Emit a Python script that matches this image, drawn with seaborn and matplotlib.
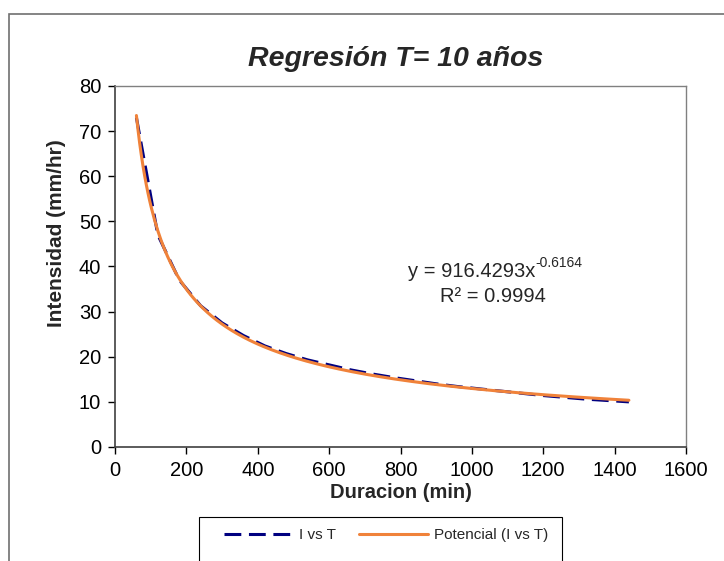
import matplotlib
matplotlib.use("Agg")
import matplotlib.pyplot as plt
from matplotlib.patches import Rectangle
import numpy as np
import pandas as pd
import seaborn as sns

### Data ###

duracion = [60, 120, 180, 240, 300, 360, 420, 480, 540, 600, 660, 720,
            780, 840, 900, 960, 1020, 1080, 1140, 1200, 1260, 1320, 1380, 1440]
intensidad = [73.0, 47.0, 37.0, 31.3, 27.5, 24.7, 22.4, 20.7, 19.3, 18.2, 17.1, 16.2,
              15.4, 14.7, 14.0, 13.4, 12.9, 12.4, 11.9, 11.4, 11.0, 10.6, 10.3, 10.0]

coef_a = 916.4293          # trend line shown on the chart: y = a * x^b
coef_b = -0.6164
r2 = 0.9994

x_ticks = [0, 200, 400, 600, 800, 1000, 1200, 1400, 1600]
y_ticks = [0, 10, 20, 30, 40, 50, 60, 70, 80]

### Plot ###

sns.set_style("white")
plt.rcParams["font.family"] = ["Liberation Sans", "DejaVu Sans"]

data_df = pd.DataFrame({"duracion": duracion, "intensidad": intensidad})
x_fit = np.linspace(min(duracion), max(duracion), 300)
fit_df = pd.DataFrame({"duracion": x_fit, "intensidad": coef_a * x_fit ** coef_b})

W, H = 724, 561
fig = plt.figure(figsize=(W / 100, H / 100), dpi=100)
ax = fig.add_axes([115 / W, (H - 447) / H, 571 / W, 361 / H])

# Excel style chart area border (only top and left are visible)
fig.patches.append(Rectangle((9 / W, -0.2), 1.2, 1.2 - 14 / H,
                             transform=fig.transFigure, fill=False,
                             edgecolor="#707070", linewidth=1.2))

sns.lineplot(data=data_df, x="duracion", y="intensidad", ax=ax,
             color="#000080", linewidth=2.2, label="I vs T")
ax.lines[-1].set_dashes([5.5, 2.5])
sns.lineplot(data=fit_df, x="duracion", y="intensidad", ax=ax,
             color="#F0823A", linewidth=2.2, label="Potencial (I vs T)")

ax.set_xlim(0, 1600)
ax.set_ylim(0, 80)
ax.set_xticks(x_ticks)
ax.set_yticks(y_ticks)
ax.tick_params(axis="both", direction="out", length=5, width=1, labelsize=14.5,
               colors="black", bottom=True, left=True, pad=5)

for side in ["left", "bottom"]:
    ax.spines[side].set_color("#404040")
    ax.spines[side].set_linewidth(1.2)
for side in ["top", "right"]:
    ax.spines[side].set_color("#808080")
    ax.spines[side].set_linewidth(1.0)

ax.set_xlabel("Duracion (min)", fontsize=14.5, fontweight="bold")
ax.xaxis.set_label_coords(0.5, (447 - 483) / 361)
ax.set_ylabel("Intensidad (mm/hr)", fontsize=15, fontweight="bold")
ax.yaxis.set_label_coords((57 - 115) / 571, (447 - 233) / 361)
ax.yaxis.label.set_verticalalignment("center")

fig.text(396 / W, 1 - 66 / H, "Regresión T= 10 años", fontsize=20.5,
         fontweight="bold", fontstyle="italic", ha="center", va="baseline")

# trend line equation, Excel style with a superscript exponent
eq = ax.text(820, 38.8, "y = 916.4293x", fontsize=14.5, ha="left", va="center")
ax.annotate(f"{coef_b}", xy=(1, 0.62), xycoords=eq, fontsize=10,
            ha="left", va="bottom")
ax.text(1060, 33.4, f"R² = {r2}", fontsize=14.5, ha="center", va="center")

# legend box at the bottom, cut by the figure edge like the original
ax.get_legend().remove()
handles, labels = ax.get_legend_handles_labels()
fig.legend(handles, labels, loc="center", ncol=2, frameon=False, fontsize=11,
           bbox_to_anchor=(386 / W, 1 - 535 / H), handlelength=4.5,
           handletextpad=0.4, columnspacing=1.5)
fig.patches.append(Rectangle((199 / W, -0.05), 363 / W, 0.05 + (H - 517) / H,
                             transform=fig.transFigure, fill=False,
                             edgecolor="black", linewidth=0.8))

fig.savefig("out.png", dpi=100)
